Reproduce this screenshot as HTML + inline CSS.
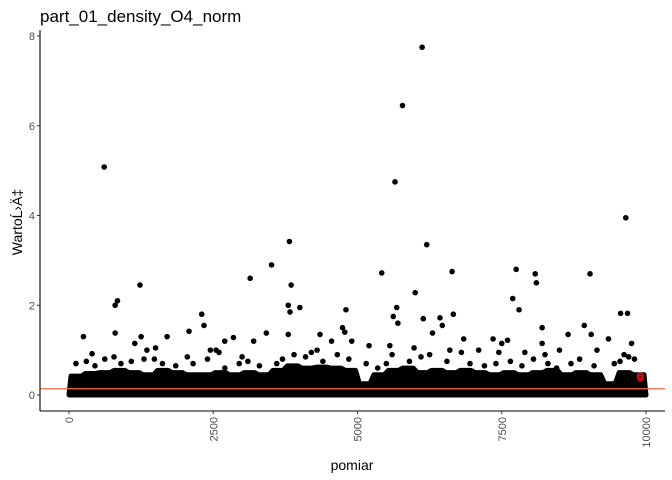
<!DOCTYPE html>
<html><head><meta charset="utf-8"><style>
html,body{margin:0;padding:0;background:#fff;}
svg{display:block;font-family:"Liberation Sans",sans-serif;}
</style></head><body>
<svg id="chart" width="672" height="480">
<text x="40" y="22" font-size="17" fill="#000">part_01_density_O4_norm</text>
<text transform="translate(22,222) rotate(-90)" text-anchor="middle" font-size="14" fill="#000">WartoĹ›Ä‡</text>
<text x="352" y="470" text-anchor="middle" font-size="14" fill="#000">pomiar</text>
<g id="marks"></g>
<g id="axes"></g>
</svg>
<script>
const binStarts=[0,250,500,750,1000,1250,1500,1750,2000,2250,2500,2750,3000,3250,3500,3750,4000,4250,4500,4750,5000,5250,5500,5750,6000,6250,6500,6750,7000,7250,7500,7750,8000,8250,8500,8750,9000,9250,9500,9750];
const bandTop=[0.42,0.48,0.5,0.55,0.5,0.45,0.55,0.5,0.45,0.45,0.5,0.45,0.5,0.45,0.55,0.65,0.6,0.62,0.6,0.55,0.25,0.45,0.55,0.6,0.5,0.55,0.5,0.55,0.5,0.45,0.5,0.45,0.5,0.55,0.45,0.5,0.45,0.25,0.5,0.45];
const outX=[610,5650,5780,6120,6200,9650,3820,3510,3140,1230,840,800,3850,3800,3830,4000,5420,6640,7750,7690,8080,8100,9030,6000,9560,9680,5680,5620,5700,7800,4800,2300,2340,1700,250,800,2080,3420,6660,6140,6430,6470,8930,8200,4740,4780,3800,1140,1250,2700,2850,3200,4350,6300,6840,7350,7500,7600,8650,9050,9350,9750,5200,5980,4550,7900,8200,8500,9150,400,1500,2450,2600,3000,4300,5560,6600,7100,7450,8250,9620,9700,4900,1350,2550];
const outY=[5.08,4.75,6.45,7.75,3.35,3.95,3.42,2.9,2.6,2.45,2.1,2.0,2.45,2.0,1.85,1.95,2.72,2.75,2.8,2.15,2.7,2.5,2.7,2.28,1.82,1.82,1.95,1.75,1.6,1.9,1.9,1.8,1.55,1.3,1.3,1.38,1.42,1.38,1.8,1.7,1.72,1.55,1.55,1.5,1.5,1.4,1.35,1.15,1.3,1.2,1.28,1.2,1.35,1.38,1.25,1.25,1.15,1.22,1.35,1.35,1.25,1.15,1.1,1.05,1.2,0.95,1.15,1.0,1.0,0.92,1.05,1.0,0.95,0.85,1.0,1.1,1.0,1.0,0.95,0.9,0.9,0.85,1.2,1.0,1.0];
const midX=[120,300,450,620,780,900,1080,1300,1480,1620,1850,2050,2150,2400,2700,2950,3100,3300,3600,3700,3900,4100,4200,4400,4650,4850,5150,5350,5500,5600,5900,6100,6250,6550,6800,6950,7200,7400,7650,7850,8050,8300,8450,8700,8850,9100,9450,9550,9800];
const midY=[0.7,0.75,0.65,0.8,0.85,0.7,0.75,0.8,0.8,0.7,0.65,0.85,0.7,0.8,0.6,0.7,0.75,0.65,0.7,0.8,0.9,0.85,0.95,0.75,0.9,0.8,0.7,0.6,0.7,0.9,0.75,0.85,0.9,0.75,0.95,0.7,0.65,0.7,0.75,0.65,0.8,0.7,0.6,0.7,0.8,0.65,0.7,0.75,0.8];
const redX=[9900,9900];
const redY=[0.43,0.38];
const hline=0.14;
const xTicks=[0,2500,5000,7500,10000];
const yTicks=[0,2,4,6,8];

const X0=40,X1=665,Y0=30,Y1=411;
const xs=v=>69+v*(646-69)/10000;
const ys=v=>395-v*(395-36)/8;
const NS="http://www.w3.org/2000/svg";
const marks=document.getElementById('marks'),axes=document.getElementById('axes');
function mk(tag,attrs,parent){const e=document.createElementNS(NS,tag);for(const k in attrs)e.setAttribute(k,attrs[k]);parent.appendChild(e);return e;}

let d="M"+xs(0)+","+ys(0);
binStarts.forEach((b,i)=>{d+=" L"+(xs(b)+2)+","+ys(bandTop[i])+" L"+(xs(b+250)-2)+","+ys(bandTop[i]);});
d+=" L"+xs(10000)+","+ys(0)+" Z";
const band=mk('path',{d:d,fill:"#000",stroke:"#000","stroke-width":5,"stroke-linejoin":"round"},marks);



outX.forEach((x,i)=>{
  const c=mk('circle',{cx:xs(x),cy:ys(outY[i]),r:2.8,fill:"#000"},marks);
  
  
});
midX.forEach((x,i)=>{
  const c=mk('circle',{cx:xs(x),cy:ys(midY[i]),r:2.8,fill:"#000"},marks);
  
  
});
redX.forEach((x,i)=>{
  const c=mk('circle',{cx:xs(x),cy:ys(redY[i]),r:2.6,fill:"none",stroke:"#ff0000","stroke-width":1.5},marks);
  
  
});
const hl=mk('line',{x1:X0,x2:X1,y1:ys(hline),y2:ys(hline),stroke:"#ff6a3d","stroke-width":1.2},marks);



const ya=mk('line',{x1:X0,x2:X0,y1:Y0,y2:Y1,stroke:"#000","stroke-width":1.1},axes);


const xa=mk('line',{x1:X0,x2:X1,y1:Y1,y2:Y1,stroke:"#000","stroke-width":1.1},axes);


yTicks.forEach(v=>{
  mk('line',{x1:X0-3,x2:X0,y1:ys(v),y2:ys(v),stroke:"#333"},axes);
  const t=mk('text',{x:X0-5,y:ys(v)+4,"text-anchor":"end","font-size":11,fill:"#4d4d4d"},axes);
  t.textContent=v;
  
  
});
xTicks.forEach(v=>{
  mk('line',{x1:xs(v),x2:xs(v),y1:Y1,y2:Y1+3,stroke:"#333"},axes);
  const t=mk('text',{transform:"translate("+(xs(v)+4)+","+(Y1+6)+") rotate(-90)","text-anchor":"end","font-size":11,fill:"#4d4d4d"},axes);
  t.textContent=v;
  
  
});
</script>
</body></html>
